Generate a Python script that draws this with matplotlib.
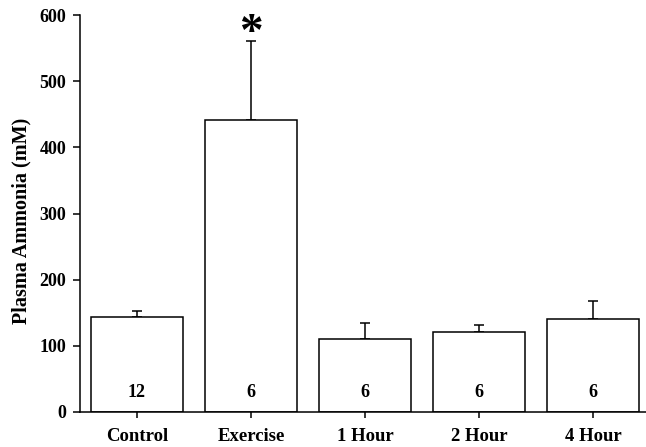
import matplotlib
matplotlib.use("Agg")
import matplotlib.pyplot as plt
import numpy as np

# Plasma ammonia per group, mean +/- SEM, with group sizes
groups = ["Control", "Exercise", "1 Hour", "2 Hour", "4 Hour"]
means = [143, 442, 110, 121, 141]
sems = [9, 118, 25, 11, 27]
n_sizes = [12, 6, 6, 6, 6]
significant = ["Exercise"]

plt.rcParams["font.family"] = ["Liberation Serif", "DejaVu Serif"]
plt.rcParams["font.weight"] = "bold"


def main():
    fig = plt.figure(figsize=(6.46, 4.47), dpi=100)
    ax = fig.add_axes([0.1238, 0.0783, 0.8762, 0.8881])

    x = np.arange(len(groups))
    lw = 1.1
    ax.bar(x, means, width=0.8, color="white", edgecolor="black", linewidth=lw, zorder=2)
    ax.errorbar(x, means, yerr=[np.zeros(len(sems)), sems], fmt="none",
                ecolor="black", elinewidth=lw, capsize=3.6, capthick=lw, zorder=1)

    # group sizes inside the bars
    for xi, n in zip(x, n_sizes):
        ax.text(xi, 30, str(n), ha="center", va="center", fontsize=13, fontweight="bold")

    # significance marker above the error bar
    for g in significant:
        i = groups.index(g)
        ax.text(x[i], means[i] + sems[i] - 5, "*", ha="center", va="baseline",
                fontsize=34, fontweight="bold", clip_on=False)

    ax.set_xlim(-0.5, 4.465)
    ax.set_ylim(0, 600)
    ax.set_yticks(np.arange(0, 601, 100))
    ax.set_xticks(x)
    ax.set_xticklabels(groups)

    for side in ["top", "right"]:
        ax.spines[side].set_visible(False)
    for side in ["left", "bottom"]:
        ax.spines[side].set_linewidth(lw)

    ax.tick_params(axis="y", direction="out", length=5, width=lw, pad=5, labelsize=13)
    ax.tick_params(axis="x", direction="out", length=4.5, width=lw, pad=7, labelsize=13.5)
    for lab in ax.get_xticklabels() + ax.get_yticklabels():
        lab.set_fontweight("bold")

    ax.set_ylabel("Plasma Ammonia (mM)", fontsize=14.5, fontweight="bold")
    ax.yaxis.set_label_coords(-0.086, 0.481)

    fig.savefig("out.png", dpi=100)


if __name__ == "__main__":
    main()
